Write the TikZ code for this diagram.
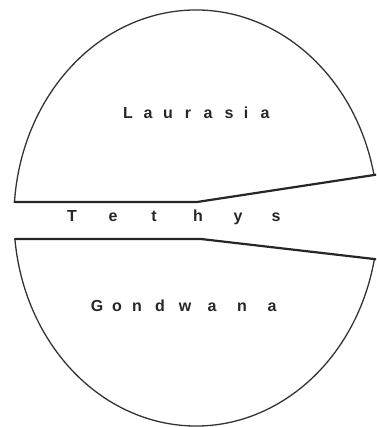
\documentclass[tikz,border=0pt]{standalone}
\usepackage{fontspec}
\setmainfont{Liberation Sans}
\begin{document}
\begin{tikzpicture}[x=1pt,y=1pt,
  coast/.style={line width=2.2pt,draw=black!85,line cap=round,line join=round},
  rim/.style={line width=1.3pt,draw=black!80},
  letter/.style={anchor=base,inner sep=0pt,font=\fontsize{16}{16}\selectfont\bfseries,text=black!85}]
\useasboundingbox (0,0) rectangle (376,-427);
\begin{scope}
\clip (0,0) rectangle (376,-427);
% northern continent
\coordinate (ul) at (14.5,-202);
\coordinate (ub) at (197,-202);
\coordinate (ur) at (374,-175);
\draw[rim] (ur) arc[start angle=11.93,end angle=175.6,x radius=182,y radius=208];
\draw[coast] (ul) -- (ub) -- ([xshift=4pt,yshift=0.6pt]ur);
% southern continent
\coordinate (ll) at (14.9,-239);
\coordinate (lb) at (201,-239);
\coordinate (lr) at (374.4,-259);
\draw[rim] (lr) arc[start angle=-11.37,end angle=-174.2,x radius=182,y radius=208];
\draw[coast] (ll) -- (lb) -- ([xshift=4pt,yshift=-0.5pt]lr);
\end{scope}
% labels
\foreach \c/\x [count=\i] in {L/128,a/148,u/168,r/188,a/208,s/229,i/246,a/265}
  \node[letter] (la\i) at (\x,-119) {\c};
\foreach \c/\x [count=\i] in {T/72,e/113,t/154,h/198,y/238,s/276}
  \node[letter] (te\i) at (\x,-222) {\c};
\foreach \c/\x [count=\i] in {G/97,o/117,n/137,d/160,w/185,a/212,n/242,a/272}
  \node[letter] (go\i) at (\x,-311) {\c};
\end{tikzpicture}
\end{document}
